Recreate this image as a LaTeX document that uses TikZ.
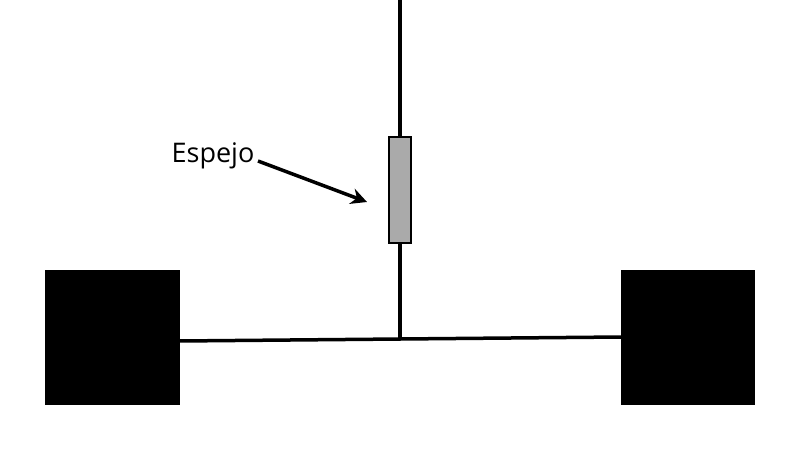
\documentclass[tikz,border=0pt]{standalone}
\usepackage{fontspec}
\setmainfont{Open Sans}
\usetikzlibrary{arrows.meta}
\begin{document}
\begin{tikzpicture}[x=1pt,y=-1pt,
  wheel/.style={fill=black,draw=black},
  bar/.style={line width=3.5pt,black}]
\useasboundingbox (0,0) rectangle (800,450);
\fill[white] (0,0) rectangle (800,450);
\coordinate (top) at (400,0);
\coordinate (mid) at (400,339);
\draw[bar] (top) -- (mid);
\node[wheel,minimum width=134pt,minimum height=134pt,inner sep=0pt] (lw) at (112,337) {};
\node[wheel,minimum width=133pt,minimum height=134pt,inner sep=0pt] (rw) at (687.5,337) {};
\draw[bar] (lw.east |- 0,341) -- (mid) -- (rw.west |- 0,337);
\node[fill={rgb,255:red,170;green,170;blue,170},draw=black,line width=1.5pt,minimum width=22pt,minimum height=106pt,inner sep=0pt] (mir) at (400,190) {};
\node[font=\fontsize{27}{30}\selectfont,anchor=center,inner sep=0pt] (lab) at (213,156) {Espejo};
\coordinate (tip) at (367,202);
\draw[line width=3.5pt,-{Stealth[length=16pt,width=16pt]}] (258,161) -- (tip);
\end{tikzpicture}
\end{document}
